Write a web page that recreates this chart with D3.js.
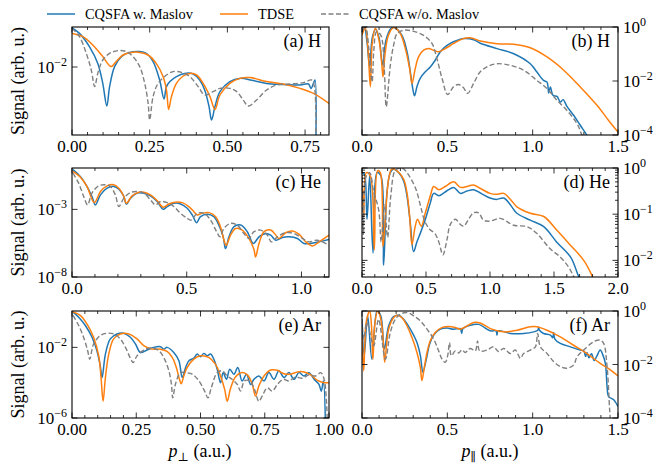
<!DOCTYPE html>
<html>
<head>
<meta charset="utf-8">
<script src="https://cdn.jsdelivr.net/npm/d3@7"></script>
<style>
  body { margin: 0; background: #fff; }
</style>
</head>
<body>
<div id="chart"></div>
<script>
// every series is [momentum (a.u.), log10(signal)]

// (a) H, p_perp
const hPerpMaslov = [[0,-0.05],[0.024,-0.32],[0.056,-0.98],[0.083,-1.82],[0.099,-2.82],[0.112,-3.95],[0.121,-2.98],[0.137,-1.98],[0.159,-1.48],[0.185,-1.27],[0.218,-1.23],[0.239,-1.32],[0.261,-1.73],[0.282,-2.65],[0.296,-3.6],[0.304,-2.98],[0.315,-2.73],[0.336,-2.48],[0.363,-2.32],[0.39,-2.35],[0.411,-2.65],[0.427,-3.15],[0.441,-3.98],[0.449,-4.65],[0.46,-3.98],[0.476,-3.23],[0.508,-2.73],[0.54,-2.57],[0.583,-2.68],[0.626,-2.82],[0.68,-2.87],[0.734,-2.9],[0.761,-2.85],[0.769,-3.07],[0.777,-2.82],[0.782,-2.65],[0.784,-6.5]];
const hPerpTdse = [[0,-0.32],[0.035,-0.48],[0.067,-0.9],[0.099,-1.48],[0.126,-1.98],[0.142,-1.73],[0.164,-1.4],[0.191,-1.27],[0.218,-1.27],[0.245,-1.4],[0.271,-1.82],[0.293,-2.48],[0.304,-3.15],[0.311,-4.12],[0.32,-3.48],[0.336,-2.82],[0.358,-2.45],[0.379,-2.32],[0.401,-2.4],[0.422,-2.82],[0.444,-3.48],[0.46,-4.12],[0.476,-3.4],[0.508,-2.82],[0.54,-2.57],[0.573,-2.53],[0.626,-2.73],[0.68,-2.85],[0.734,-3.07],[0.777,-3.32],[0.827,-3.82]];
const hPerpNoMaslov = [[0,-0.07],[0.024,-0.48],[0.046,-1.32],[0.062,-2.15],[0.073,-2.98],[0.083,-2.32],[0.099,-1.65],[0.121,-1.32],[0.148,-1.18],[0.175,-1.23],[0.196,-1.48],[0.218,-1.98],[0.234,-2.82],[0.245,-3.82],[0.25,-4.65],[0.261,-3.48],[0.277,-2.82],[0.304,-2.4],[0.325,-2.23],[0.352,-2.27],[0.379,-2.48],[0.406,-2.98],[0.427,-3.4],[0.454,-3.23],[0.476,-3.07],[0.508,-3.07],[0.53,-3.23],[0.551,-3.65],[0.567,-3.95],[0.594,-3.65],[0.626,-3.15],[0.659,-2.9],[0.702,-2.85],[0.745,-2.78],[0.771,-2.65],[0.78,-2.98],[0.785,-6.5]];

// (b) H, p_par
const hParMaslov = [[0,-0.2],[0.015,-0.05],[0.03,-0.6],[0.045,-1.5],[0.06,-0.4],[0.08,-0.08],[0.1,-0.4],[0.12,-1.4],[0.14,-0.5],[0.17,-0.05],[0.19,-0.02],[0.234,-0.31],[0.264,-0.92],[0.283,-1.66],[0.299,-2.34],[0.308,-2.55],[0.322,-2.21],[0.341,-1.9],[0.371,-1.66],[0.4,-1.48],[0.429,-1.23],[0.459,-0.92],[0.498,-0.68],[0.547,-0.52],[0.595,-0.43],[0.654,-0.47],[0.693,-0.6],[0.791,-0.8],[0.889,-0.99],[0.986,-1.36],[1.025,-1.67],[1.064,-1.98],[1.084,-2.04],[1.094,-2.44],[1.104,-2.22],[1.119,-2.53],[1.143,-2.57],[1.162,-2.78],[1.178,-2.69],[1.201,-2.94],[1.24,-3.27],[1.279,-3.64],[1.318,-4.01],[1.36,-4.5]];
const hParTdse = [[0,-0.3],[0.02,-0.05],[0.035,-0.8],[0.049,-2.21],[0.06,-0.6],[0.078,-0.05],[0.1,-0.5],[0.115,-1.3],[0.123,-1.85],[0.135,-1.0],[0.155,-0.3],[0.186,-0.02],[0.224,-0.24],[0.254,-0.8],[0.279,-1.54],[0.293,-2.09],[0.312,-1.54],[0.332,-1.1],[0.361,-0.86],[0.39,-0.8],[0.42,-0.86],[0.449,-0.92],[0.488,-0.8],[0.537,-0.61],[0.586,-0.45],[0.634,-0.4],[0.693,-0.52],[0.791,-0.62],[0.889,-0.64],[0.986,-0.77],[1.084,-1.11],[1.182,-1.6],[1.279,-2.22],[1.377,-2.9],[1.445,-3.46],[1.5,-3.89]];
const hParNoMaslov = [[0,-0.1],[0.02,-0.02],[0.04,-0.8],[0.059,-2.03],[0.07,-0.8],[0.085,-0.18],[0.11,-0.3],[0.13,-1.5],[0.142,-2.95],[0.166,-1.41],[0.185,-0.68],[0.205,-0.25],[0.244,-0.12],[0.303,-0.16],[0.361,-0.31],[0.41,-0.61],[0.439,-1.17],[0.469,-1.9],[0.502,-2.5],[0.537,-2.21],[0.566,-2.13],[0.595,-2.25],[0.619,-2.46],[0.654,-2.09],[0.693,-1.66],[0.74,-1.45],[0.791,-1.36],[0.869,-1.42],[0.947,-1.6],[1.025,-1.98],[1.084,-2.28],[1.143,-2.72],[1.201,-3.09],[1.26,-3.58],[1.289,-4.01],[1.32,-4.5]];

// (c) He, p_perp
const hePerpMaslov = [[0.004,-0.06],[0.036,-0.56],[0.065,-1.3],[0.087,-2.05],[0.102,-2.67],[0.124,-1.93],[0.153,-1.43],[0.182,-1.3],[0.204,-1.5],[0.226,-2.05],[0.237,-2.62],[0.255,-2.17],[0.284,-1.8],[0.313,-1.8],[0.342,-2.0],[0.371,-2.42],[0.397,-2.99],[0.415,-2.79],[0.444,-2.55],[0.473,-2.6],[0.502,-2.92],[0.524,-3.41],[0.543,-3.98],[0.56,-3.54],[0.589,-3.36],[0.618,-3.54],[0.64,-4.16],[0.659,-5.03],[0.669,-5.9],[0.684,-5.03],[0.706,-4.28],[0.735,-4.16],[0.764,-4.65],[0.79,-5.52],[0.815,-5.03],[0.844,-4.78],[0.866,-4.9],[0.888,-5.28],[0.917,-5.08],[0.946,-5.03],[0.982,-5.15],[1.011,-5.52],[1.04,-5.52],[1.077,-5.4],[1.12,-5.23]];
const hePerpTdse = [[0.004,-0.19],[0.036,-0.61],[0.065,-1.3],[0.097,-2.5],[0.124,-1.68],[0.153,-1.26],[0.182,-1.18],[0.204,-1.43],[0.226,-2.05],[0.237,-2.55],[0.262,-2.0],[0.291,-1.73],[0.313,-1.73],[0.342,-1.93],[0.371,-2.35],[0.397,-2.84],[0.422,-2.6],[0.451,-2.47],[0.48,-2.5],[0.509,-2.79],[0.531,-3.17],[0.546,-3.41],[0.567,-3.29],[0.597,-3.24],[0.626,-3.54],[0.647,-4.28],[0.662,-5.27],[0.672,-5.65],[0.691,-4.9],[0.713,-4.41],[0.742,-4.53],[0.771,-5.15],[0.793,-5.97],[0.8,-6.52],[0.815,-5.52],[0.837,-4.65],[0.866,-4.53],[0.888,-4.9],[0.902,-5.15],[0.931,-4.73],[0.96,-4.6],[0.989,-4.83],[1.019,-5.4],[1.048,-5.7],[1.077,-5.4],[1.12,-4.9]];
const hePerpNoMaslov = [[0.004,-0.31],[0.029,-1.06],[0.051,-2.05],[0.068,-2.67],[0.087,-1.8],[0.116,-1.26],[0.146,-1.18],[0.167,-1.3],[0.189,-1.93],[0.204,-2.79],[0.226,-2.17],[0.255,-1.75],[0.284,-1.68],[0.313,-1.8],[0.342,-2.3],[0.364,-2.67],[0.386,-2.42],[0.415,-2.5],[0.444,-2.79],[0.473,-3.29],[0.502,-3.66],[0.519,-3.79],[0.546,-3.29],[0.575,-3.29],[0.604,-3.79],[0.63,-4.65],[0.645,-5.03],[0.662,-4.41],[0.691,-4.03],[0.72,-4.16],[0.749,-4.78],[0.771,-5.15],[0.793,-4.65],[0.822,-4.53],[0.851,-4.9],[0.869,-5.4],[0.895,-5.03],[0.931,-4.73],[0.968,-4.78],[1.004,-5.15],[1.033,-5.4],[1.069,-5.28],[1.12,-5.65]];

// (d) He, p_par
const heParMaslov = [[0,-0.1],[0.018,-0.13],[0.039,-1.11],[0.06,-0.17],[0.086,-1.84],[0.117,-0.1],[0.148,-0.17],[0.169,-2.1],[0.195,-0.53],[0.221,-0.1],[0.247,-0.02],[0.286,-0.1],[0.325,-0.28],[0.351,-0.6],[0.377,-1.19],[0.403,-1.81],[0.43,-1.59],[0.456,-1.41],[0.495,-1.11],[0.534,-0.75],[0.56,-0.55],[0.6,-0.6],[0.65,-0.52],[0.716,-0.42],[0.77,-0.55],[0.82,-0.5],[0.872,-0.47],[0.93,-0.55],[1.0,-0.65],[1.05,-0.68],[1.107,-0.65],[1.16,-0.8],[1.21,-0.98],[1.315,-1.13],[1.42,-1.27],[1.52,-1.6],[1.63,-1.93],[1.69,-2.33],[1.72,-2.5]];
const heParTdse = [[0,-0.17],[0.013,-1.04],[0.034,-0.1],[0.065,-0.17],[0.096,-1.77],[0.122,-0.06],[0.143,-0.1],[0.164,-1.7],[0.208,-0.24],[0.234,-0.02],[0.273,-0.06],[0.325,-0.24],[0.351,-0.53],[0.372,-1.04],[0.39,-1.66],[0.416,-1.26],[0.434,-1.11],[0.463,-1.26],[0.495,-0.97],[0.534,-0.6],[0.56,-0.4],[0.6,-0.47],[0.65,-0.4],[0.716,-0.3],[0.77,-0.42],[0.82,-0.4],[0.872,-0.37],[0.93,-0.45],[1.0,-0.55],[1.05,-0.57],[1.107,-0.55],[1.16,-0.68],[1.21,-0.84],[1.315,-0.98],[1.42,-1.05],[1.523,-1.35],[1.628,-1.67],[1.732,-2.0],[1.797,-2.33],[1.82,-2.5]];
const heParNoMaslov = [[0,-0.2],[0.012,-1.45],[0.03,-0.2],[0.06,-0.1],[0.09,-0.5],[0.13,-0.9],[0.15,-1.6],[0.175,-0.8],[0.2,-1.5],[0.225,-0.6],[0.26,-0.05],[0.3,0],[0.325,-0.02],[0.364,-0.15],[0.42,-0.45],[0.46,-0.85],[0.49,-1.15],[0.53,-1.33],[0.57,-1.42],[0.6,-1.6],[0.632,-1.88],[0.664,-1.55],[0.69,-1.22],[0.729,-1.11],[0.768,-1.22],[0.794,-1.26],[0.833,-1.11],[0.872,-0.97],[0.911,-0.97],[0.95,-1.13],[1.0,-1.15],[1.08,-1.09],[1.185,-1.24],[1.29,-1.27],[1.367,-1.42],[1.47,-1.75],[1.55,-1.93],[1.615,-2.15],[1.65,-2.33],[1.68,-2.5]];

// (e) Ar, p_perp
const arPerpMaslov = [[0.004,0],[0.026,-0.29],[0.052,-0.76],[0.078,-1.43],[0.097,-2.19],[0.11,-3.05],[0.117,-3.71],[0.13,-2.38],[0.149,-1.52],[0.175,-1.24],[0.201,-1.2],[0.227,-1.43],[0.247,-1.81],[0.266,-2.29],[0.292,-2.15],[0.318,-2.0],[0.344,-1.96],[0.357,-2.1],[0.37,-2.0],[0.396,-2.29],[0.416,-2.76],[0.429,-3.71],[0.442,-3.14],[0.455,-2.76],[0.474,-2.61],[0.487,-2.38],[0.5,-2.53],[0.513,-2.34],[0.526,-2.48],[0.539,-2.38],[0.552,-2.67],[0.565,-3.24],[0.578,-4.0],[0.588,-3.43],[0.601,-3.81],[0.614,-3.24],[0.63,-3.52],[0.645,-3.14],[0.662,-3.9],[0.679,-3.52],[0.695,-4.1],[0.708,-3.81],[0.727,-3.62],[0.747,-3.9],[0.766,-3.43],[0.786,-3.81],[0.805,-3.33],[0.825,-3.71],[0.844,-3.43],[0.864,-3.81],[0.883,-3.43],[0.903,-3.62],[0.922,-3.43],[0.942,-3.81],[0.961,-4.1],[0.97,-4.48],[0.978,-3.9],[0.987,-7]];
const arPerpTdse = [[0.004,0],[0.032,-0.19],[0.058,-0.67],[0.084,-1.43],[0.104,-2.48],[0.113,-3.71],[0.121,-5.05],[0.13,-3.71],[0.143,-2.38],[0.162,-1.52],[0.188,-1.24],[0.221,-1.24],[0.253,-1.52],[0.279,-1.9],[0.312,-2.1],[0.344,-2.1],[0.37,-2.23],[0.39,-2.57],[0.406,-3.14],[0.418,-3.81],[0.425,-4.06],[0.435,-3.62],[0.448,-3.14],[0.474,-2.67],[0.5,-2.48],[0.532,-2.57],[0.558,-2.95],[0.578,-3.62],[0.594,-4.38],[0.604,-5.05],[0.617,-4.32],[0.636,-3.68],[0.662,-3.43],[0.682,-3.56],[0.701,-4.06],[0.714,-4.76],[0.727,-4.19],[0.747,-3.62],[0.773,-3.28],[0.799,-3.3],[0.825,-3.49],[0.851,-3.52],[0.877,-3.39],[0.903,-3.39],[0.929,-3.56],[0.955,-3.87],[0.981,-4.0],[1.0,-4.0]];
const arPerpNoMaslov = [[0.004,-0.19],[0.026,-0.76],[0.045,-1.43],[0.061,-2.19],[0.069,-2.67],[0.084,-1.81],[0.11,-1.33],[0.136,-1.2],[0.162,-1.24],[0.188,-1.52],[0.208,-2.0],[0.227,-2.61],[0.238,-2.86],[0.253,-2.48],[0.279,-2.15],[0.312,-2.04],[0.338,-2.19],[0.357,-2.57],[0.377,-3.33],[0.387,-4.1],[0.392,-4.86],[0.403,-4.06],[0.422,-3.43],[0.442,-3.43],[0.468,-3.52],[0.494,-3.9],[0.516,-4.48],[0.529,-4.86],[0.542,-4.29],[0.565,-3.43],[0.584,-3.33],[0.604,-3.62],[0.623,-3.81],[0.643,-4.1],[0.656,-4.48],[0.671,-3.9],[0.692,-3.9],[0.71,-4.38],[0.727,-5.05],[0.74,-4.76],[0.76,-4.29],[0.779,-4.48],[0.799,-4.1],[0.822,-3.81],[0.844,-3.9],[0.87,-3.68],[0.896,-3.75],[0.922,-3.56],[0.948,-3.62],[0.968,-3.43],[0.981,-3.81],[0.99,-5.05],[0.995,-7]];

// (f) Ar, p_par
const arParMaslov = [[0,-0.31],[0.013,-1.67],[0.033,-0.18],[0.058,-1.8],[0.088,0],[0.11,-0.18],[0.131,-1.42],[0.156,-0.56],[0.185,-0.21],[0.215,-0.16],[0.244,-0.31],[0.283,-0.68],[0.322,-1.18],[0.342,-1.67],[0.357,-2.29],[0.377,-1.8],[0.396,-1.24],[0.42,-0.9],[0.459,-0.68],[0.498,-0.64],[0.537,-0.68],[0.576,-0.66],[0.584,-0.83],[0.591,-0.66],[0.634,-0.53],[0.683,-0.5],[0.752,-0.74],[0.785,-0.74],[0.791,-0.9],[0.797,-0.74],[0.869,-0.84],[0.947,-0.84],[1.006,-0.78],[1.03,-0.72],[1.035,-0.6],[1.04,-0.72],[1.064,-0.84],[1.104,-0.9],[1.118,-1.0],[1.123,-0.8],[1.13,-1.05],[1.162,-1.21],[1.221,-1.34],[1.279,-1.46],[1.3,-1.5],[1.31,-1.7],[1.318,-1.55],[1.33,-1.75],[1.345,-1.6],[1.36,-1.85],[1.375,-1.7],[1.396,-1.46],[1.41,-1.62],[1.426,-1.96],[1.436,-2.82],[1.445,-3.2],[1.475,-3.32],[1.5,-3.57]];
const arParTdse = [[0,-1.0],[0.01,-2.23],[0.025,-0.4],[0.045,0],[0.055,-0.5],[0.064,-1.8],[0.075,-0.5],[0.092,0],[0.11,-0.3],[0.125,-1.2],[0.133,-1.92],[0.156,-0.68],[0.185,-0.25],[0.205,-0.16],[0.234,-0.25],[0.264,-0.56],[0.293,-0.99],[0.322,-1.55],[0.342,-2.11],[0.351,-2.6],[0.365,-2.11],[0.381,-1.55],[0.4,-1.11],[0.429,-0.8],[0.468,-0.62],[0.507,-0.58],[0.547,-0.62],[0.576,-0.68],[0.615,-0.56],[0.654,-0.43],[0.693,-0.45],[0.752,-0.66],[0.83,-0.78],[0.908,-0.72],[0.986,-0.59],[1.025,-0.59],[1.084,-0.72],[1.162,-0.97],[1.24,-1.28],[1.318,-1.59],[1.396,-1.96],[1.455,-2.2],[1.5,-2.43]];
const arParNoMaslov = [[0,-0.31],[0.01,-1.05],[0.029,-0.43],[0.068,-1.3],[0.097,-0.31],[0.137,-1.8],[0.166,-0.8],[0.195,-0.31],[0.224,-0.12],[0.264,-0.06],[0.303,-0.18],[0.342,-0.37],[0.381,-0.68],[0.42,-1.05],[0.449,-1.49],[0.469,-1.8],[0.488,-1.92],[0.502,-1.67],[0.513,-1.18],[0.523,-1.67],[0.547,-1.49],[0.566,-1.57],[0.586,-1.45],[0.605,-1.55],[0.634,-1.4],[0.664,-1.49],[0.677,-1.12],[0.689,-1.49],[0.732,-1.46],[0.771,-1.34],[0.801,-1.52],[0.83,-1.4],[0.869,-1.59],[0.898,-1.46],[0.928,-1.77],[0.947,-1.59],[0.986,-1.46],[1.016,-1.34],[1.029,-0.84],[1.045,-1.34],[1.084,-1.59],[1.123,-1.89],[1.162,-2.08],[1.201,-2.14],[1.24,-2.02],[1.26,-1.71],[1.299,-1.46],[1.357,-1.15],[1.396,-1.09],[1.416,-1.21],[1.436,-2.08],[1.451,-3.69],[1.459,-4.5]];

const legendNames = ["CQSFA w. Maslov", "TDSE", "CQSFA w/o. Maslov"];
const panelLabels = ["(a) H", "(b) H", "(c) He", "(d) He", "(e) Ar", "(f) Ar"];

const width = 658, height = 466;
const colors = ["#1f77b4", "#ff7f0e", "#808080"];
const serif = "'Liberation Serif', 'Times New Roman', Times, 'DejaVu Serif', serif";

const panels = [
  {x: 72, y: 27, w: 257, h: 108, xMax: 0.827, yLog: [-5.4, 0], xMajor: 0.25, xMinor: 0.05, fmt: ".2f", yMajor: [-2], minor: false, side: "left",
   series: [hPerpMaslov, hPerpTdse, hPerpNoMaslov]},
  {x: 362, y: 27, w: 256, h: 108, xMax: 1.5, yLog: [-4, 0], xMajor: 0.5, xMinor: 0.1, fmt: ".1f", yMajor: [-4, -2, 0], minor: false, side: "right",
   series: [hParMaslov, hParTdse, hParNoMaslov]},
  {x: 72, y: 168, w: 257, h: 109, xMax: 1.12, yLog: [-8, 0.06], xMajor: 0.5, xMinor: 0.1, fmt: ".1f", yMajor: [-8, -3], minor: false, side: "left",
   series: [hePerpMaslov, hePerpTdse, hePerpNoMaslov]},
  {x: 362, y: 168, w: 256, h: 109, xMax: 2.0, yLog: [-2.36, 0], xMajor: 0.5, xMinor: 0.1, fmt: ".1f", yMajor: [-2, -1, 0], minor: true, side: "right",
   series: [heParMaslov, heParTdse, heParNoMaslov]},
  {x: 72, y: 311, w: 257, h: 107, xMax: 1.0, yLog: [-6, 0.06], xMajor: 0.25, xMinor: 0.05, fmt: ".2f", yMajor: [-6, -2], minor: false, side: "left",
   series: [arPerpMaslov, arPerpTdse, arPerpNoMaslov]},
  {x: 362, y: 311, w: 256, h: 107, xMax: 1.5, yLog: [-4, 0], xMajor: 0.5, xMinor: 0.1, fmt: ".1f", yMajor: [-4, -2, 0], minor: false, side: "right",
   series: [arParMaslov, arParTdse, arParNoMaslov]}
];

const svg = d3.select("#chart")
  .append("svg")
  .attr("width", width)
  .attr("height", height)
  .attr("font-family", serif);

function powLabel(sel, e) {
  sel.text("10");
  sel.append("tspan")
    .attr("dy", -7)
    .attr("font-size", 12)
    .text(e < 0 ? "\u2212" + (-e) : e);
}

panels.forEach((p, i) => {
  const g = svg.append("g").attr("transform", `translate(${p.x},${p.y})`);
  const x = d3.scaleLinear().domain([0, p.xMax]).range([0, p.w]);
  const y = d3.scaleLog().domain([10 ** p.yLog[0], 10 ** p.yLog[1]]).range([p.h, 0]);

  g.append("clipPath").attr("id", "clip" + i)
    .append("rect").attr("width", p.w).attr("height", p.h);

  const line = d3.line()
    .x(d => x(d[0]))
    .y(d => y(10 ** d[1]))
    .curve(d3.curveCatmullRom.alpha(0.5));

  const plot = g.append("g").attr("clip-path", `url(#clip${i})`);
  p.series.forEach((s, k) => {
    plot.append("path")
      .datum(s)
      .attr("d", line)
      .attr("fill", "none")
      .attr("stroke", colors[k])
      .attr("stroke-width", k == 2 ? 1.4 : 1.5)
      .attr("stroke-dasharray", k == 2 ? "5,2.5" : null)
      .attr("stroke-linejoin", "round");
  });

  // ticks, pointing inwards on all four sides
  const ticks = g.append("g").attr("stroke", "#000").attr("stroke-width", 0.8);
  const minorX = d3.range(0, p.xMax + 1e-9, p.xMinor);
  const majorX = d3.range(0, p.xMax + 1e-9, p.xMajor);
  minorX.forEach(v => {
    const isMajor = majorX.some(m => Math.abs(m - v) < 1e-9);
    const len = isMajor ? 5.5 : 3;
    ticks.append("line").attr("x1", x(v)).attr("x2", x(v)).attr("y1", p.h).attr("y2", p.h - len);
    ticks.append("line").attr("x1", x(v)).attr("x2", x(v)).attr("y1", 0).attr("y2", len);
  });
  p.yMajor.forEach(e => {
    const yy = y(10 ** e);
    ticks.append("line").attr("x1", 0).attr("x2", 5.5).attr("y1", yy).attr("y2", yy);
    ticks.append("line").attr("x1", p.w).attr("x2", p.w - 5.5).attr("y1", yy).attr("y2", yy);
  });
  if (p.minor) {
    for (let e = Math.floor(p.yLog[0]); e < p.yLog[1]; e++) {
      for (let m = 2; m < 10; m++) {
        const v = m * 10 ** e;
        if (v < 10 ** p.yLog[0] || v > 10 ** p.yLog[1]) continue;
        const yy = y(v);
        ticks.append("line").attr("x1", 0).attr("x2", 3).attr("y1", yy).attr("y2", yy);
        ticks.append("line").attr("x1", p.w).attr("x2", p.w - 3).attr("y1", yy).attr("y2", yy);
      }
    }
  }

  g.append("rect")
    .attr("width", p.w).attr("height", p.h)
    .attr("fill", "none").attr("stroke", "#000").attr("stroke-width", 1.1);

  // tick labels
  const fmt = d3.format(p.fmt);
  majorX.forEach(v => {
    g.append("text")
      .attr("x", x(v)).attr("y", p.h + 16.5)
      .attr("text-anchor", "middle")
      .attr("font-size", 17)
      .text(fmt(v));
  });
  p.yMajor.forEach(e => {
    const t = g.append("text")
      .attr("x", p.side == "left" ? -5 : p.w + 5)
      .attr("y", y(10 ** e) + 6)
      .attr("text-anchor", p.side == "left" ? "end" : "start")
      .attr("font-size", 17);
    powLabel(t, e);
  });

  g.append("text")
    .attr("x", p.w - 8).attr("y", 20)
    .attr("text-anchor", "end")
    .attr("font-size", 18)
    .text(panelLabels[i]);

  if (p.side == "left") {
    g.append("text")
      .attr("transform", `translate(${-48},${p.h / 2}) rotate(-90)`)
      .attr("text-anchor", "middle")
      .attr("font-size", 18)
      .text("Signal (arb. u.)");
  }
});

// x-axis titles under the bottom row
[["\u22A5", 200], ["\u2225", 490]].forEach(([sub, cx]) => {
  const t = svg.append("text")
    .attr("x", cx).attr("y", 457)
    .attr("text-anchor", "middle")
    .attr("font-size", 18);
  t.append("tspan").attr("font-style", "italic").text("p");
  t.append("tspan").attr("dy", 4).attr("font-size", 12).text(sub);
  t.append("tspan").attr("dy", -4).text(" (a.u.)");
});

// legend across the top
const legendX = [47, 220, 321];
legendNames.forEach((name, k) => {
  svg.append("line")
    .attr("x1", legendX[k]).attr("x2", legendX[k] + 28)
    .attr("y1", 14).attr("y2", 14)
    .attr("stroke", colors[k])
    .attr("stroke-width", 1.5)
    .attr("stroke-dasharray", k == 2 ? "5,2.5" : null);
  svg.append("text")
    .attr("x", legendX[k] + 38).attr("y", 19)
    .attr("font-size", 14.4)
    .text(name);
});
</script>
</body>
</html>
